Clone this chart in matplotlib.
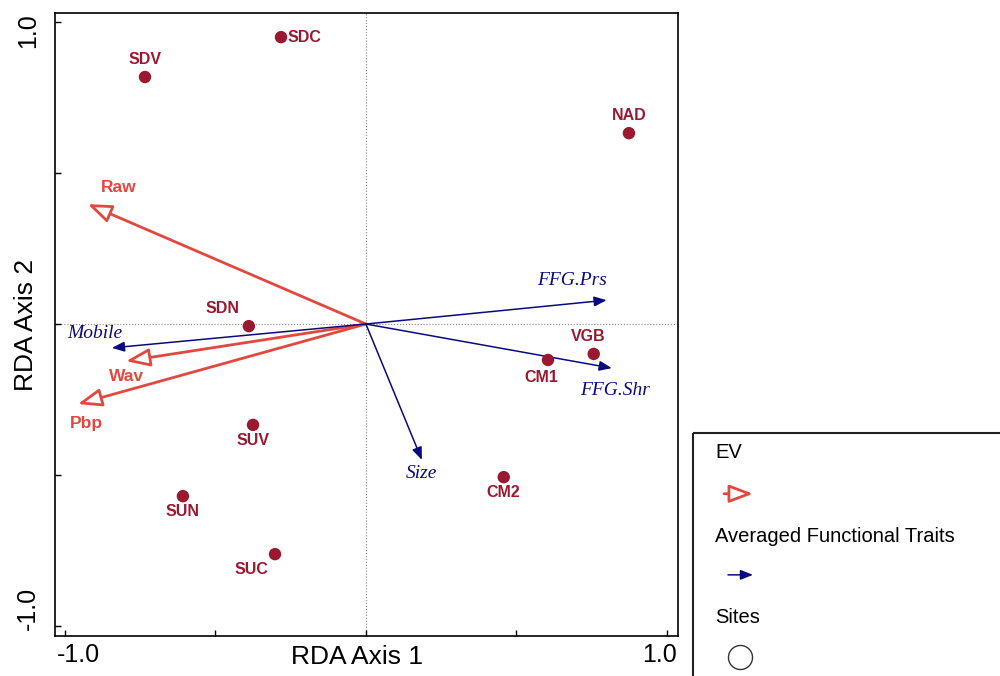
import matplotlib.pyplot as plt
from matplotlib import patches
from matplotlib import transforms

# site scores
site_names = ['SDC', 'SDV', 'NAD', 'SDN', 'VGB', 'CM1', 'SUV', 'CM2', 'SUN', 'SUC']
site_x = [-0.282, -0.734, 0.874, -0.389, 0.757, 0.605, -0.375, 0.458, -0.608, -0.302]
site_y = [0.950, 0.818, 0.632, -0.007, -0.099, -0.119, -0.334, -0.507, -0.570, -0.762]

# environmental variables (red open arrows)
ev_names = ['Raw', 'Wav', 'Pbp']
ev_x = [-0.924, -0.797, -0.957]
ev_y = [0.397, -0.123, -0.265]

# averaged functional traits (blue arrows)
trait_names = ['Mobile', 'FFG.Prs', 'FFG.Shr', 'Size']
trait_x = [-0.844, 0.800, 0.817, 0.186]
trait_y = [-0.079, 0.079, -0.146, -0.450]

tick_vals = [-1.0, -0.5, 0, 0.5, 1.0]
tick_text = ['-1.0', '', '', '', '1.0']

RED = '#e2483f'
SITE = '#9a1830'
BLUE = '#0a0a80'
SANS = 'Liberation Sans'
SERIF = 'Liberation Serif'

plt.rcParams['font.family'] = SANS

fig = plt.figure(figsize=(10, 6.76), dpi=100)
ax = fig.add_axes([0.055, 0.0592, 0.623, 0.9216])
ax.set_xlim(-1.033, 1.037)
ax.set_ylim(-1.033, 1.03)

ax.axhline(0, color='#888888', lw=0.8, ls=':', zorder=1)
ax.axvline(0, color='#888888', lw=0.8, ls=':', zorder=1)

for x, y in zip(ev_x, ev_y):
    ax.annotate('', xy=(x, y), xytext=(0, 0),
                arrowprops=dict(arrowstyle='-|>,head_length=1.0,head_width=0.38',
                                mutation_scale=14.5, ec=RED, fc='white', lw=2,
                                shrinkA=0, shrinkB=0), zorder=3)

for x, y in zip(trait_x, trait_y):
    ax.annotate('', xy=(x, y), xytext=(0, 0),
                arrowprops=dict(arrowstyle='-|>,head_length=1.0,head_width=0.4',
                                mutation_scale=7.5, ec=BLUE, fc=BLUE, lw=1.1,
                                shrinkA=0, shrinkB=0), zorder=3)

ax.scatter(site_x, site_y, s=80, color=SITE, zorder=4, edgecolors='none')

# label offsets in points
site_off = {'SDC': (5, 0, 'left', 'center'), 'SDV': (0, 7, 'center', 'bottom'),
            'NAD': (0, 7, 'center', 'bottom'), 'SDN': (-19, 7, 'center', 'bottom'),
            'VGB': (-4, 7, 'center', 'bottom'), 'CM1': (-5, -7, 'center', 'top'),
            'SUV': (0, -6, 'center', 'top'), 'CM2': (0, -6, 'center', 'top'),
            'SUN': (0, -6, 'center', 'top'), 'SUC': (-17, -6, 'center', 'top')}
for name, x, y in zip(site_names, site_x, site_y):
    dx, dy, ha, va = site_off[name]
    ax.annotate(name, (x, y), xytext=(dx, dy), textcoords='offset points',
                ha=ha, va=va, fontsize=11.5, fontweight='bold', color=SITE)

ev_off = {'Raw': (22, 12), 'Wav': (0, -11), 'Pbp': (6, -14)}
for name, x, y in zip(ev_names, ev_x, ev_y):
    dx, dy = ev_off[name]
    ax.annotate(name, (x, y), xytext=(dx, dy), textcoords='offset points',
                ha='center', va='center', fontsize=12.5, fontweight='bold', color=RED)

trait_off = {'Mobile': (-12, 10), 'FFG.Prs': (-25, 14), 'FFG.Shr': (2, -16), 'Size': (0, -10)}
for name, x, y in zip(trait_names, trait_x, trait_y):
    dx, dy = trait_off[name]
    ax.annotate(name, (x, y), xytext=(dx, dy), textcoords='offset points',
                ha='center', va='center', fontsize=14, fontstyle='italic',
                family=SERIF, color=BLUE)

ax.set_xticks(tick_vals)
ax.set_xticklabels(tick_text)
ax.set_yticks(tick_vals)
ax.set_yticklabels(tick_text, rotation=90, va='center')
ax.tick_params(direction='in', length=4, width=1, labelsize=18)
ax.tick_params(axis='y', pad=11)
ax.tick_params(axis='x', pad=5)

# nudge the end labels inwards like the original
def nudge(lbl, dx, dy):
    lbl.set_transform(lbl.get_transform() +
                      transforms.ScaledTranslation(dx / 72, dy / 72, fig.dpi_scale_trans))

xl = ax.get_xticklabels()
nudge(xl[0], 10, 0)
nudge(xl[-1], -5, 0)
yl = ax.get_yticklabels()
nudge(yl[0], 0, 13)
nudge(yl[-1], 0, -6)

ax.set_xlabel('RDA Axis 1', fontsize=19)
ax.xaxis.set_label_coords(0.485, -0.014)
ax.set_ylabel('RDA Axis 2', fontsize=19)
ax.yaxis.set_label_coords(-0.047, 0.5)
ax.yaxis.label.set_va('center')
for s in ax.spines.values():
    s.set_linewidth(1.2)

# legend box
lg = fig.add_axes([0.693, 0.0, 0.307, 0.36])
lg.set_xlim(0, 307)
lg.set_ylim(243, 0)
lg.axis('off')
lg.add_patch(patches.Rectangle((0, 0), 320, 260, fill=False, ec='#222222', lw=1.5, clip_on=False))
lg.text(22, 20, 'EV', fontsize=14.5, va='center')
lg.text(22, 104, 'Averaged Functional Traits', fontsize=14.5, va='center')
lg.text(22, 185, 'Sites', fontsize=14.5, va='center')
lg.annotate('', xy=(60, 61), xytext=(31, 61),
            arrowprops=dict(arrowstyle='-|>,head_length=1.0,head_width=0.38',
                            mutation_scale=14.5, ec=RED, fc='white', lw=2,
                            shrinkA=0, shrinkB=0))
lg.annotate('', xy=(60, 142), xytext=(35, 142),
            arrowprops=dict(arrowstyle='-|>,head_length=1.0,head_width=0.4',
                            mutation_scale=7.5, ec=BLUE, fc=BLUE, lw=1.1,
                            shrinkA=0, shrinkB=0))
lg.scatter([47], [224], s=300, facecolors='white', edgecolors='#333333', linewidths=1)

fig.savefig('out.png', dpi=100)
